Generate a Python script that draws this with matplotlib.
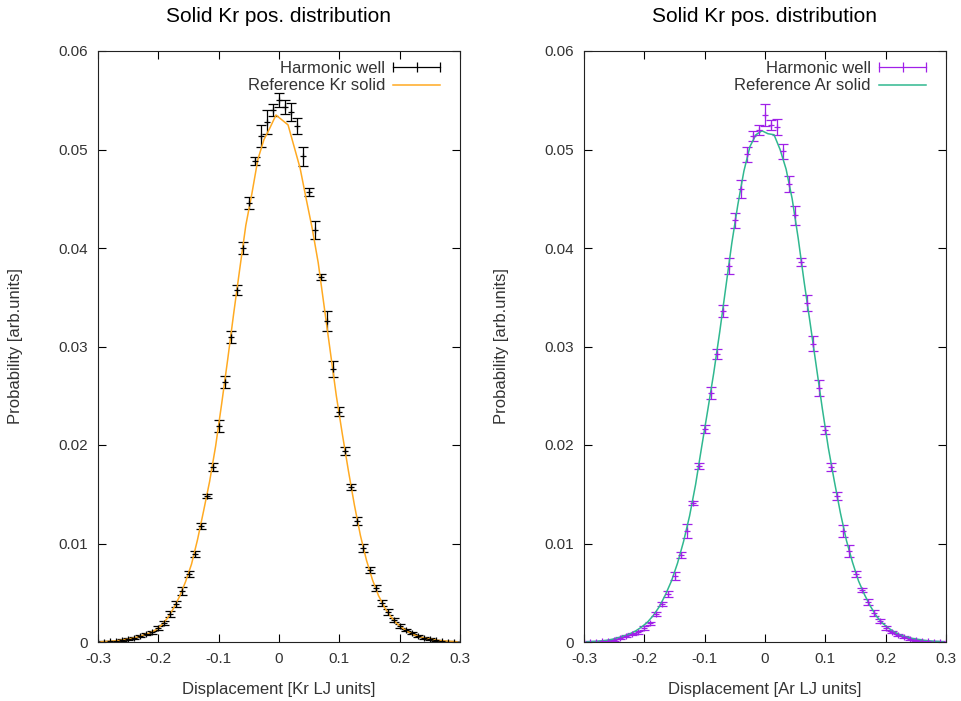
import matplotlib
matplotlib.use("Agg")
import matplotlib.pyplot as plt
import numpy as np
from matplotlib.lines import Line2D
from matplotlib.legend_handler import HandlerLine2D

# histogram bins (same grid for both panels)
x_pts = np.round(np.arange(-30, 31) / 100, 2)
x_ref = np.round(np.arange(-295, 300, 10) / 1000, 3)

kr_prob = [0.0, 0.00005, 0.0001, 0.0001, 0.0002, 0.0003, 0.0004,
           0.0006, 0.0008, 0.0010, 0.0014, 0.0019, 0.0028, 0.0039, 0.0052,
           0.0069, 0.0089, 0.0118, 0.0148, 0.0178, 0.0219, 0.0264, 0.0310,
           0.0357, 0.0400, 0.0446, 0.0488, 0.0514, 0.0528, 0.0540, 0.0550,
           0.0543, 0.0538, 0.0524, 0.0493, 0.0457, 0.0418, 0.0371, 0.0326,
           0.0277, 0.0234, 0.0194, 0.0157, 0.0123, 0.0095, 0.0073, 0.0055,
           0.0040, 0.0030, 0.0022, 0.0016, 0.0012, 0.0009, 0.0006, 0.0004,
           0.0003, 0.0002, 0.0001, 0.00005, 0.0, 0.0]
kr_err = [0.00005, 0.00005, 0.00005, 0.00005, 0.00008, 0.0001, 0.0001,
          0.0001, 0.0001, 0.00015, 0.0002, 0.0002, 0.0003, 0.0003, 0.0004,
          0.0003, 0.0003, 0.0003, 0.0002, 0.0004, 0.0006, 0.0006, 0.0006,
          0.0005, 0.0006, 0.0006, 0.0004, 0.0011, 0.0012, 0.0006, 0.0007,
          0.0007, 0.0009, 0.0008, 0.0010, 0.0004, 0.0009, 0.0003, 0.0010,
          0.0008, 0.0005, 0.0004, 0.0003, 0.0004, 0.0004, 0.0003, 0.0003,
          0.0003, 0.0003, 0.0002, 0.0002, 0.0001, 0.0001, 0.0001, 0.0001,
          0.00008, 0.00005, 0.00005, 0.00005, 0.00005, 0.00005]
kr_ref = [0.00003, 0.00006, 0.0001, 0.00015, 0.00025, 0.00035, 0.0005,
          0.0007, 0.0009, 0.0012, 0.0017, 0.0024, 0.0034, 0.0046, 0.0061,
          0.0079, 0.0104, 0.0133, 0.0163, 0.0199, 0.0242, 0.0287, 0.0334,
          0.0379, 0.0423, 0.0455, 0.0490, 0.0510, 0.0522, 0.0535, 0.0530,
          0.0525, 0.0503, 0.0481, 0.0450, 0.0420, 0.0385, 0.0340, 0.0295,
          0.0250, 0.0211, 0.0174, 0.0139, 0.0108, 0.0083, 0.0063, 0.0047,
          0.0035, 0.0026, 0.0019, 0.0014, 0.0010, 0.0007, 0.0005, 0.00035,
          0.00025, 0.00016, 0.0001, 0.00006, 0.00003]

ar_prob = [0.0, 0.00003, 0.00005, 0.0001, 0.00015, 0.0002, 0.0004,
           0.00057, 0.00078, 0.0010, 0.0014, 0.0019, 0.0028, 0.0039, 0.0049,
           0.0067, 0.0088, 0.0113, 0.0141, 0.0179, 0.0216, 0.0253, 0.0292,
           0.0336, 0.0382, 0.0428, 0.0460, 0.0495, 0.0514, 0.0520, 0.0535,
           0.0525, 0.0523, 0.0498, 0.0465, 0.0433, 0.0386, 0.0344, 0.0303,
           0.0258, 0.0215, 0.0178, 0.0148, 0.0113, 0.0092, 0.0069, 0.0053,
           0.0041, 0.0029, 0.0021, 0.0014, 0.0010, 0.0007, 0.0005, 0.0003,
           0.0002, 0.00015, 0.0001, 0.00005, 0.00002, 0.0]
ar_err = [0.00005, 0.00005, 0.00005, 0.00005, 0.00008, 0.0001, 0.0001,
          0.0001, 0.0001, 0.00015, 0.0002, 0.00015, 0.0002, 0.0002, 0.0003,
          0.0004, 0.0003, 0.0007, 0.0002, 0.0003, 0.0004, 0.0006, 0.0005,
          0.0006, 0.0008, 0.0008, 0.0009, 0.0008, 0.0005, 0.0005, 0.0011,
          0.0005, 0.0008, 0.0008, 0.0008, 0.0010, 0.0004, 0.0008, 0.0008,
          0.0008, 0.0004, 0.0004, 0.0004, 0.0006, 0.0006, 0.0003, 0.0002,
          0.0003, 0.0003, 0.0002, 0.0002, 0.0001, 0.0001, 0.0001, 0.0001,
          0.00008, 0.00005, 0.00005, 0.00005, 0.00005, 0.00005]
ar_ref = [0.00003, 0.00005, 0.0001, 0.00015, 0.00025, 0.0004, 0.0006,
          0.0008, 0.0011, 0.0015, 0.0020, 0.0027, 0.0036, 0.0048, 0.0062,
          0.0080, 0.0102, 0.0128, 0.0160, 0.0198, 0.0235, 0.0273, 0.0315,
          0.0360, 0.0405, 0.0444, 0.0478, 0.0503, 0.0515, 0.0519, 0.0516,
          0.0515, 0.0500, 0.0480, 0.0450, 0.0410, 0.0365, 0.0323, 0.0280,
          0.0237, 0.0197, 0.0163, 0.0131, 0.0103, 0.0081, 0.0062, 0.0048,
          0.0036, 0.0026, 0.0019, 0.0014, 0.0010, 0.0007, 0.0005, 0.00035,
          0.00025, 0.00016, 0.0001, 0.00006, 0.00003]

x_ticks = [-0.3, -0.2, -0.1, 0, 0.1, 0.2, 0.3]
x_ticklabels = ["-0.3", "-0.2", "-0.1", "0", "0.1", "0.2", "0.3"]
y_ticks = [0, 0.01, 0.02, 0.03, 0.04, 0.05, 0.06]
y_ticklabels = ["0", "0.01", "0.02", "0.03", "0.04", "0.05", "0.06"]

plt.rcParams['font.family'] = ['Liberation Sans', 'DejaVu Sans']
plt.rcParams['axes.unicode_minus'] = False
text_color = '#333333'

panels = [
    dict(prob=kr_prob, err=kr_err, ref=kr_ref, pt_color='black', ref_color='#ffaa22',
         ref_label='Reference Kr solid', xlabel='Displacement [Kr LJ units]', left=98),
    dict(prob=ar_prob, err=ar_err, ref=ar_ref, pt_color='#a020e8', ref_color='#30b890',
         ref_label='Reference Ar solid', xlabel='Displacement [Ar LJ units]', left=584),
]

fig = plt.figure(figsize=(9.61, 7.01), dpi=100)
W, H = 961, 701

for p in panels:
    ax = fig.add_axes([p['left'] / W, (H - 642) / H, 362 / W, 591 / H])
    ax.errorbar(x_pts, p['prob'], yerr=p['err'], fmt='+', color=p['pt_color'],
                markersize=4, elinewidth=0.9, capsize=3.5, capthick=0.9, mew=0.9)
    ax.plot(x_ref, p['ref'], color=p['ref_color'], lw=1.1)

    ax.set_xlim(-0.3, 0.3)
    ax.set_ylim(0, 0.06)
    ax.set_xticks(x_ticks)
    ax.set_xticklabels(x_ticklabels)
    ax.set_yticks(y_ticks)
    ax.set_yticklabels(y_ticklabels)
    ax.tick_params(direction='in', top=True, right=True, length=6, width=0.8,
                   labelsize=11, labelcolor=text_color, pad=7)
    for s in ax.spines.values():
        s.set_linewidth(0.8)
        s.set_color('#222222')

    ax.set_title('Solid Kr pos. distribution', fontsize=15, color='black', pad=21)
    ax.set_xlabel(p['xlabel'], fontsize=12, color=text_color, labelpad=12)
    ax.set_ylabel('Probability [arb.units]', fontsize=12, color=text_color, labelpad=26)

    pt_proxy = Line2D([], [], color=p['pt_color'], lw=0.9, marker='|',
                      markersize=7, mew=0.9)
    ref_proxy = Line2D([], [], color=p['ref_color'], lw=1.1)
    leg = ax.legend([pt_proxy, ref_proxy], ['Harmonic well', p['ref_label']],
                    loc='upper right', bbox_to_anchor=(1 - 20 / 362, 1 - 10 / 591),
                    frameon=False, markerfirst=False, fontsize=12,
                    handlelength=2.8, handletextpad=0.5, labelspacing=0.15,
                    borderaxespad=0, borderpad=0,
                    handler_map={pt_proxy: HandlerLine2D(numpoints=3, marker_pad=0)})
    for t in leg.get_texts():
        t.set_color(text_color)

fig.savefig('out.png', dpi=100)
